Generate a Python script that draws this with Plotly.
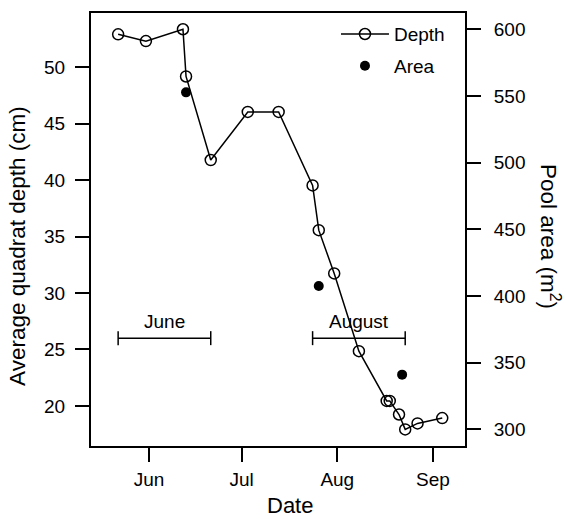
import plotly.graph_objects as go

# ---- data ----
depth_dates = ["2009-05-22", "2009-05-31", "2009-06-12", "2009-06-13", "2009-06-21",
               "2009-07-03", "2009-07-13", "2009-07-24", "2009-07-26", "2009-07-31",
               "2009-08-08", "2009-08-17", "2009-08-18", "2009-08-21", "2009-08-23",
               "2009-08-27", "2009-09-04"]
depth_cm = [52.9, 52.3, 53.35, 49.17, 41.77, 46.03, 46.03, 39.52, 35.56, 31.73,
            24.85, 20.44, 20.44, 19.24, 17.92, 18.45, 18.92]

area_dates = ["2009-06-13", "2009-07-26", "2009-08-22"]
area_m2 = [552.7, 407.5, 341.0]

period_labels = ["June", "August"]
period_start = ["2009-05-22", "2009-07-24"]
period_end = ["2009-06-21", "2009-08-23"]
period_mid = ["2009-06-06", "2009-08-08"]
period_level = [26, 26]

month_ticks = ["2009-06-01", "2009-07-01", "2009-08-01", "2009-09-01"]
month_labels = ["Jun", "Jul", "Aug", "Sep"]
left_ticks = [20, 25, 30, 35, 40, 45, 50]
right_ticks = [300, 350, 400, 450, 500, 550, 600]

FONT = "Liberation Sans, Arial, Helvetica, sans-serif"
fig = go.Figure()

fig.add_trace(go.Scatter(
    x=depth_dates, y=depth_cm, name="Depth", mode="lines+markers",
    line=dict(color="black", width=1.5),
    marker=dict(symbol="circle-open", size=11, color="black", line=dict(width=1.5)),
    legendgroup="a", yaxis="y"))

fig.add_trace(go.Scatter(
    x=area_dates, y=area_m2, name="Area", mode="markers",
    marker=dict(symbol="circle", size=10, color="black"),
    legendgroup="b", yaxis="y2"))

for lab, s, e, lv in zip(period_labels, period_start, period_end, period_level):
    fig.add_trace(go.Scatter(
        x=[s, e], y=[lv, lv], mode="lines+markers", showlegend=False,
        line=dict(color="black", width=1.5),
        marker=dict(symbol="line-ns", size=10, line=dict(width=1.5, color="black")),
        yaxis="y", hoverinfo="skip"))

for lab, m, lv in zip(period_labels, period_mid, period_level):
    fig.add_annotation(x=m, y=lv, xref="x", yref="y", text=lab, showarrow=False,
                       yshift=17, font=dict(size=19, color="black", family=FONT))

fig.update_layout(
    width=566, height=519,
    margin=dict(l=91, r=101, t=11, b=73),
    paper_bgcolor="white", plot_bgcolor="white",
    font=dict(family=FONT, size=19, color="black"),
    showlegend=True,
    legend=dict(x=0.655, y=0.995, xanchor="left", yanchor="top",
                bgcolor="rgba(0,0,0,0)", tracegroupgap=4, itemwidth=48,
                font=dict(size=19, family=FONT)),
    xaxis=dict(type="date", range=["2009-05-13 05:00", "2009-09-11 09:00"],
               tickvals=month_ticks, ticktext=month_labels,
               ticks="outside", ticklen=14, tickwidth=1.5, tickcolor="black",
               showline=True, linecolor="black", linewidth=2, mirror=True,
               showgrid=False, zeroline=False, ticklabelstandoff=1),
    yaxis=dict(range=[16.45, 54.79], tickvals=left_ticks,
               ticks="outside", ticklen=14, tickwidth=1.5, tickcolor="black",
               showline=True, linecolor="black", linewidth=2, mirror=True,
               showgrid=False, zeroline=False, ticklabelstandoff=6),
    yaxis2=dict(range=[287.5, 612.2], tickvals=right_ticks, overlaying="y", side="right",
                ticks="outside", ticklen=14, tickwidth=1.5, tickcolor="black",
                showline=True, linecolor="black", linewidth=2,
                showgrid=False, zeroline=False, ticklabelstandoff=9),
)

fig.add_annotation(text="Average quadrat depth (cm)", xref="paper", yref="paper",
                   x=(18 - 91) / 374, y=(446 - 245) / 435, textangle=-90,
                   showarrow=False, xanchor="center", yanchor="middle",
                   font=dict(size=22.5, family=FONT, color="black"))
fig.add_annotation(text="Pool area (m<sup>2</sup>)", xref="paper", yref="paper",
                   x=(550 - 91) / 374, y=(446 - 235) / 435, textangle=90,
                   showarrow=False, xanchor="center", yanchor="middle",
                   font=dict(size=22.5, family=FONT, color="black"))
fig.add_annotation(text="Date", xref="paper", yref="paper",
                   x=(290 - 91) / 374, y=-(506 - 446) / 435,
                   showarrow=False, xanchor="center", yanchor="middle",
                   font=dict(size=22, family=FONT, color="black"))

fig.write_html("out.html", config={"displayModeBar": False},
               post_script="document.body.style.margin='0';document.body.style.padding='0';")
